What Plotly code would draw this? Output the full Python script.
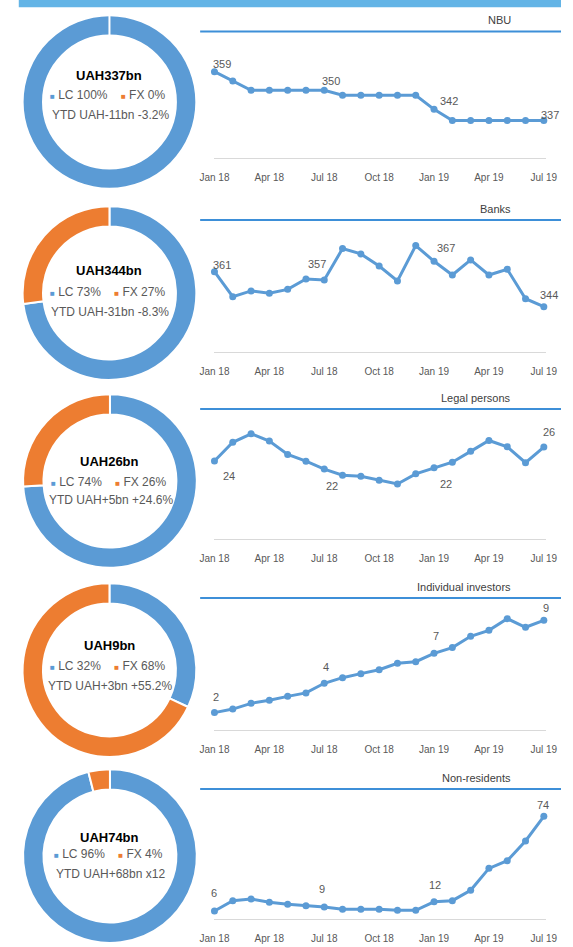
import plotly.graph_objects as go

W, H = 573, 947

# ---- data -----------------------------------------------------------------
months = ["Jan 18", "Feb 18", "Mar 18", "Apr 18", "May 18", "Jun 18", "Jul 18",
          "Aug 18", "Sep 18", "Oct 18", "Nov 18", "Dec 18", "Jan 19", "Feb 19",
          "Mar 19", "Apr 19", "May 19", "Jun 19", "Jul 19"]
tick_labels = ["Jan 18", "Apr 18", "Jul 18", "Oct 18", "Jan 19", "Apr 19", "Jul 19"]

holders = ["NBU", "Banks", "Legal persons", "Individual investors", "Non-residents"]

# holdings, UAH bn, month-end
nbu = [358.7, 354.5, 350.4, 350.4, 350.4, 350.4, 350.4, 348.2, 348.2, 348.2,
       348.2, 348.2, 341.9, 336.9, 336.9, 336.9, 336.9, 336.9, 336.9]
banks = [361.4, 348.8, 351.7, 350.5, 352.5, 357.7, 357.2, 373.0, 370.3, 364.2,
         356.7, 374.5, 366.6, 359.7, 367.3, 359.7, 362.6, 347.8, 343.8]
legal = [23.53, 27.15, 28.8, 27.4, 24.8, 23.5, 21.98, 20.8, 20.6, 19.8,
         19.1, 21.05, 22.24, 23.3, 25.4, 27.5, 26.3, 23.2, 26.24]
individuals = [1.94, 2.22, 2.67, 2.91, 3.22, 3.49, 4.25, 4.69, 5.01, 5.32,
               5.82, 5.95, 6.61, 7.06, 7.95, 8.42, 9.34, 8.66, 9.21]
nonresidents = [5.81, 13.25, 14.45, 12.05, 10.6, 9.65, 8.69, 7.0, 7.0, 7.0,
                6.3, 6.3, 12.45, 13.25, 20.7, 36.5, 42.0, 56.2, 73.97]

# currency split of the latest holdings, %
lc_share = [100, 73, 74, 32, 96]
fx_share = [0, 27, 26, 68, 4]

# year-to-date change
ytd_bn = [-11, -31, 5, 3, 68]
ytd_rel = ["-3.2%", "-8.3%", "+24.6%", "+55.2%", "x12"]

# months that carry a value label
labelled = [0, 6, 12, 18]

series = [nbu, banks, legal, individuals, nonresidents]

# ---- styling --------------------------------------------------------------
BLUE = "#5b9bd5"
ORANGE = "#ed7d31"
RULE = "#3d8fd8"
GREY = "#595959"
FONT = "Liberation Sans, Arial, sans-serif"

# panel geometry in pixels: rule line, title, plot top/bottom, y range
panels = [
    dict(rule=31.6, title=20.0, top=35.0, bottom=158.3, yr=[320.06, 375.05]),
    dict(rule=220.0, title=209.0, top=224.0, bottom=351.7, yr=[321.17, 385.34]),
    dict(rule=409.0, title=398.0, top=413.0, bottom=539.0, yr=[8.45, 32.82]),
    dict(rule=598.0, title=587.0, top=602.0, bottom=730.0, yr=[0.571, 10.65]),
    dict(rule=789.0, title=778.0, top=793.0, bottom=919.0, yr=[0.05, 90.76]),
]
# label offsets (dx, dy) in px for the labelled months of each panel
label_offsets = [
    [(8, 8), (7, 9), (15, 8), (6, 6)],
    [(8, 7), (-7, 16), (12, 13), (5, 12)],
    [(15, -15), (8, -17), (12, -16), (5, 15)],
    [(2, 16), (2, 16), (2, 17), (2, 12)],
    [(0, 18), (-2, 18), (1, 17), (-1, 11)],
]
# donut centres (px) and radius
donut_centres = [(100, 102), (100, 293), (100.5, 481), (100, 670), (100.5, 856)]
donut_r = 91
# text line offsets from the donut centre (title, legend, ytd)
donut_text_dy = [(-27, -7, 13), (-23, -1, 19), (-19, 1, 19), (-25, -4, 16), (-19, -2, 18)]

X_DOMAIN_PX = (209, 557)
X_RANGE = [-0.052, 18.104]


def fx(x):
    return min(max(x / W, 0.0), 1.0)


def fy(y):
    return min(max(1 - y / H, 0.0), 1.0)


fig = go.Figure()
layout = dict(
    width=W, height=H, margin=dict(l=0, r=0, t=0, b=0),
    paper_bgcolor="white", plot_bgcolor="white", showlegend=False,
    font=dict(family=FONT, color=GREY),
)
annotations = []
shapes = []

# header band
shapes.append(dict(type="rect", xref="paper", yref="paper",
                   x0=fx(5), x1=1, y0=fy(7.3), y1=1,
                   fillcolor="#63b4e6", line=dict(width=0), layer="below"))

xs = list(range(len(months)))

for k, (name, vals, p) in enumerate(zip(holders, series, panels)):
    n = k + 1
    xa = "x" if n == 1 else f"x{n}"
    ya = "y" if n == 1 else f"y{n}"
    fig.add_trace(go.Scatter(
        x=xs, y=vals, xaxis=xa, yaxis=ya, mode="lines+markers",
        line=dict(color=BLUE, width=3), marker=dict(color=BLUE, size=7),
        cliponaxis=False, hoverinfo="skip"))
    layout[f"xaxis{'' if n == 1 else n}"] = dict(
        domain=[fx(X_DOMAIN_PX[0]), fx(X_DOMAIN_PX[1])], anchor=ya,
        range=X_RANGE, showgrid=False, zeroline=False,
        showline=True, linecolor="#d9d9d9", linewidth=1,
        tickmode="array", tickvals=xs[::3], ticktext=tick_labels,
        ticks="", ticklabelstandoff=10,
        tickfont=dict(family=FONT, size=10, color=GREY))
    layout[f"yaxis{'' if n == 1 else n}"] = dict(
        domain=[fy(p["bottom"]), fy(p["top"])], anchor=xa, range=p["yr"],
        visible=False, showgrid=False, zeroline=False)

    for i, (dx, dy) in zip(labelled, label_offsets[k]):
        annotations.append(dict(
            x=i, y=vals[i], xref=xa, yref=ya, xshift=dx, yshift=dy,
            xanchor="center", yanchor="middle",
            text=f"{vals[i]:.0f}", showarrow=False,
            font=dict(family=FONT, size=11, color=GREY)))

    annotations.append(dict(
        x=fx(523), y=fy(p["title"]), xref="paper", yref="paper",
        xanchor="right", yanchor="middle", text=name, showarrow=False,
        font=dict(family=FONT, size=11, color="#404040")))
    shapes.append(dict(type="line", xref="paper", yref="paper",
                       x0=fx(195), x1=1, y0=fy(p["rule"]), y1=fy(p["rule"]),
                       line=dict(color=RULE, width=2)))

    # currency split donut
    cx, cy = donut_centres[k]
    fig.add_trace(go.Pie(
        values=[lc_share[k], fx_share[k]], labels=["LC", "FX"],
        marker=dict(colors=[BLUE, ORANGE], line=dict(color="white", width=2)),
        hole=0.765, sort=False, direction="clockwise", rotation=0,
        textinfo="none", hoverinfo="skip",
        domain=dict(x=[fx(cx - donut_r), fx(cx + donut_r)],
                    y=[fy(cy + donut_r), fy(cy - donut_r)])))

    t_dy, l_dy, y_dy = donut_text_dy[k]
    total = vals[-1]
    annotations.append(dict(
        x=fx(cx), y=fy(cy + t_dy), xref="paper", yref="paper",
        xanchor="center", yanchor="middle",
        text=f"<b>UAH{total:.0f}bn</b>", showarrow=False,
        font=dict(family=FONT, size=13, color="black")))
    legend_txt = (f"<span style='color:{BLUE};font-size:8px'>■</span> LC {lc_share[k]}%"
                  "\u00a0\u00a0\u00a0\u00a0"
                  f"<span style='color:{ORANGE};font-size:8px'>■</span> FX {fx_share[k]}%")
    annotations.append(dict(
        x=fx(cx - 2), y=fy(cy + l_dy), xref="paper", yref="paper",
        xanchor="center", yanchor="middle",
        text=legend_txt, showarrow=False,
        font=dict(family=FONT, size=12, color=GREY)))
    sign = "+" if ytd_bn[k] > 0 else ""
    annotations.append(dict(
        x=fx(cx + 1), y=fy(cy + y_dy), xref="paper", yref="paper",
        xanchor="center", yanchor="middle",
        text=f"YTD UAH{sign}{ytd_bn[k]}bn {ytd_rel[k]}", showarrow=False,
        font=dict(family=FONT, size=12, color=GREY)))

layout["annotations"] = annotations
layout["shapes"] = shapes
fig.update_layout(**layout)
fig.write_html("out.html")
